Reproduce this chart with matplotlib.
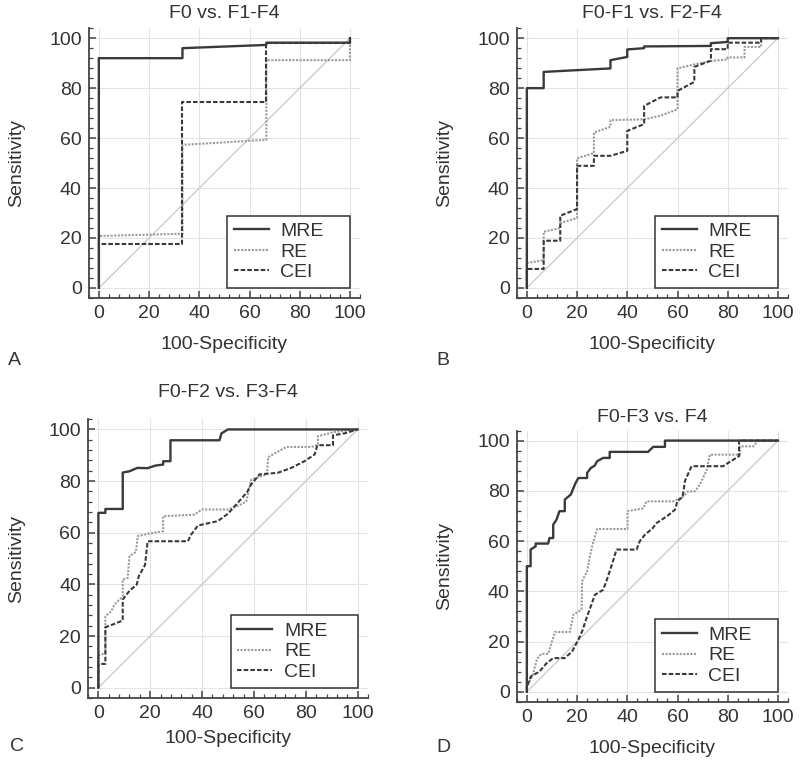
import matplotlib
matplotlib.use("Agg")
import matplotlib.pyplot as plt
from matplotlib.ticker import MultipleLocator

plt.rcParams['font.family'] = ['Liberation Sans', 'DejaVu Sans']
plt.rcParams['font.size'] = 14

TEXT = '#333333'

# panel A: F0 vs. F1-F4
a_mre_x = [0, 0, 33.3, 33.3, 66.7, 66.7, 100, 100]
a_mre_y = [0, 92, 92, 96, 97.3, 98.2, 98.2, 100]
a_re_x = [0, 0, 33.3, 33.3, 66.7, 66.7, 100, 100]
a_re_y = [0, 20.8, 21.7, 57.3, 59.3, 91.2, 91.2, 100]
a_cei_x = [0, 0, 33.3, 33.3, 66.7, 66.7, 100, 100]
a_cei_y = [0, 17.7, 17.7, 74.3, 74.3, 98.2, 98.2, 100]

# panel B: F0-F1 vs. F2-F4
b_mre_x = [0, 0, 6.7, 6.7, 33.3, 33.3, 40, 40, 46.7, 46.7, 73.3, 73.3, 80, 80, 100]
b_mre_y = [0, 80, 80, 86.5, 87.9, 91.2, 92.5, 95.5, 96, 96.7, 96.9, 98, 98.5, 100, 100]
b_re_x = [0, 0, 6.7, 6.7, 13.3, 13.3, 20, 20, 26.7, 26.7, 33.3, 33.3, 46.7, 53.3, 60, 60,
          66.7, 73.3, 80, 80, 86.7, 86.7, 93.3, 93.3, 100]
b_re_y = [0, 10, 11.1, 22.5, 24, 26, 28, 51.9, 54, 62.2, 64.5, 67.2, 67.5, 69, 71.5, 87.9,
          89.5, 90.9, 91.5, 92.3, 92.3, 96.5, 96.5, 100, 100]
b_cei_x = [0, 0, 6.7, 6.7, 13.3, 13.3, 20, 20, 26.7, 26.7, 33.3, 40, 40, 46.7, 46.7, 53.3,
           60, 60, 66.7, 66.7, 73.3, 73.3, 80, 80, 93.3, 93.3, 100]
b_cei_y = [0, 7.6, 7.6, 18.9, 18.9, 28.9, 31.6, 48.9, 48.9, 52.9, 52.9, 54.9, 62.9, 65.6, 72.9, 76.3,
           76.3, 78.9, 82.5, 88.5, 91, 95.6, 95.6, 98.2, 98.2, 100, 100]

# panel C: F0-F2 vs. F3-F4
c_mre_x = [0, 0, 2.7, 2.7, 9.4, 9.4, 12, 15, 19, 22, 25, 25, 27.8, 27.8, 46.7, 47.5, 50, 100]
c_mre_y = [0, 67.7, 67.7, 69.2, 69.2, 83.3, 83.8, 85.1, 85, 86, 86.4, 87.7, 87.7, 95.8, 95.8, 98.5, 100, 100]
c_re_x = [0, 0, 2.7, 2.7, 5, 6.2, 9.4, 9.4, 11.3, 12, 14.5, 15.2, 19.7, 25, 25, 37, 40, 50, 54,
          57, 59, 65, 65.5, 72.5, 82, 84.7, 84.7, 91, 100]
c_re_y = [0, 12.4, 13.4, 27.6, 29.6, 32.2, 35.4, 41.9, 42.5, 50.9, 52.6, 58.7, 59.7, 60.6, 66.4,
          67, 69, 69, 70.5, 72, 80.6, 82.6, 89.3, 93.2, 93.2, 94, 97.4, 99, 100]
c_cei_x = [0, 0, 2.7, 2.7, 6.2, 9.4, 9.4, 12, 14.8, 15.6, 18, 19, 34.5, 35.8, 38.4, 46.1, 49.9,
           53.8, 57.4, 58.9, 62.2, 69.2, 74.4, 79.5, 83.4, 84.5, 90.5, 90.5, 95, 100]
c_cei_y = [0, 9.2, 9.2, 23.4, 24.7, 26, 34.1, 37.5, 39.9, 43.2, 47.5, 56.7, 56.7, 59.3, 62.8, 64.5,
           67.3, 71.6, 75.8, 78.7, 82.6, 83.2, 85.1, 87.7, 90.3, 93.9, 93.9, 97.7, 98.5, 100]

# panel D: F0-F3 vs. F4
d_mre_x = [0, 0, 1.5, 1.5, 3.5, 3.5, 8.5, 9, 10.5, 10.5, 11.8, 13, 15.1, 15.1, 17.5, 19.3, 20.5,
           24, 24, 25.5, 27, 28, 30.4, 33, 33, 48.3, 50.3, 55, 55, 100]
d_mre_y = [0, 50, 50, 56.6, 57.9, 59, 59, 61.2, 61.2, 66.5, 68.5, 71.9, 71.9, 76.5, 78.5, 82.9, 85.1,
           85.1, 87.1, 89.1, 90, 91.8, 93.1, 93.1, 95.5, 95.5, 97.5, 97.5, 100, 100]
d_re_x = [0, 0, 2.5, 4, 5.8, 8.5, 9.8, 11.2, 17.1, 18.5, 21.8, 22, 24, 25.1, 26, 28, 40.1, 40.1,
          46.3, 47.7, 58.3, 62, 64.3, 67, 68.9, 71.5, 72.9, 84.9, 84.9, 90.2, 92, 100]
d_re_y = [0, 2, 7, 13, 15.1, 15.1, 19.4, 23.8, 23.8, 30.7, 32.7, 44, 48, 53.9, 58, 64.8, 64.8, 71.9,
          73, 75.8, 75.8, 77.5, 79.8, 79.8, 82.5, 88, 94.4, 94.4, 97.7, 97.7, 100, 100]
d_cei_x = [0, 0, 1.6, 5, 7.8, 10.5, 15.1, 18, 20.5, 22, 24, 26, 27.1, 30.4, 32, 34, 35.7, 43.7,
           45, 47, 50, 51.7, 56, 59, 60, 62, 63, 65.6, 78.2, 80, 84.5, 84.5, 100]
d_cei_y = [0, 2, 6.1, 8, 11.3, 13.4, 13.4, 16, 20.7, 24, 30, 35.5, 38.6, 40.6, 45, 51, 56.6, 56.6,
           60, 62.5, 65, 67.2, 70, 72.5, 76, 77.5, 84, 89.8, 89.8, 91, 93.8, 100, 100]

panels = [
  ("F0 vs. F1-F4", "A", [0.111, 0.609, 0.339, 0.354], 7, 10,
   (a_mre_x, a_mre_y), (a_re_x, a_re_y), (a_cei_x, a_cei_y), (0.010, 0.521)),
  ("F0-F1 vs. F2-F4", "B", [0.646, 0.609, 0.339, 0.354], 7, 10,
   (b_mre_x, b_mre_y), (b_re_x, b_re_y), (b_cei_x, b_cei_y), (0.545, 0.521)),
  ("F0-F2 vs. F3-F4", "C", [0.110, 0.084, 0.350, 0.366], 16, 6,
   (c_mre_x, c_mre_y), (c_re_x, c_re_y), (c_cei_x, c_cei_y), (0.0125, 0.015)),
  ("F0-F3 vs. F4", "D", [0.646, 0.079, 0.339, 0.356], 6.5, 10,
   (d_mre_x, d_mre_y), (d_re_x, d_re_y), (d_cei_x, d_cei_y), (0.545, 0.013)),
]

fig = plt.figure(figsize=(8, 7.62), dpi=100)

for title, letter, rect, tpad, xpad, mre, re, cei, lpos in panels:
  ax = fig.add_axes(rect)
  ax.plot([0, 100], [0, 100], color='#c8c8c8', lw=0.9, zorder=1)
  ax.plot(re[0], re[1], color='#9a9a9a', lw=1.5, linestyle=(0, (1, 0.7)), label='RE', zorder=3)
  ax.plot(cei[0], cei[1], color='#3a3a3a', lw=1.5, linestyle=(0, (2.2, 1)), label='CEI', zorder=4)
  ax.plot(mre[0], mre[1], color='#3a3a3a', lw=1.7, label='MRE', zorder=5)

  ax.set_xlim(-4, 104)
  ax.set_ylim(-4, 104)
  ax.xaxis.set_major_locator(MultipleLocator(20))
  ax.yaxis.set_major_locator(MultipleLocator(20))
  ax.xaxis.set_minor_locator(MultipleLocator(4))
  ax.yaxis.set_minor_locator(MultipleLocator(4))
  ax.grid(True, which='major', color='#e3e3e3', lw=0.8)
  ax.set_axisbelow(True)
  for s in ['top', 'right']:
    ax.spines[s].set_visible(False)
  for s in ['left', 'bottom']:
    ax.spines[s].set_color('#444444')
    ax.spines[s].set_linewidth(1.3)
  ax.tick_params(which='major', direction='in', length=5, width=1.1, color='#444444',
                 labelcolor=TEXT, pad=5, labelsize=14)
  ax.tick_params(which='minor', direction='in', length=3, width=0.9, color='#444444')

  ax.set_title(title, color=TEXT, fontsize=14, pad=tpad)
  ax.set_xlabel('100-Specificity', color=TEXT, fontsize=14, labelpad=xpad)
  ax.set_ylabel('Sensitivity', color=TEXT, fontsize=14, labelpad=17)

  handles, labels = ax.get_legend_handles_labels()
  order = [labels.index(n) for n in ['MRE', 'RE', 'CEI']]
  leg = ax.legend([handles[i] for i in order], [labels[i] for i in order],
                  loc='lower right', bbox_to_anchor=(51, 0, 49, 30),
                  bbox_transform=ax.transData, mode='expand', borderaxespad=0,
                  fancybox=False, framealpha=1, edgecolor='#333333',
                  handlelength=1.8, handletextpad=0.6, labelspacing=0.15,
                  borderpad=0.35, fontsize=14)
  leg.get_frame().set_linewidth(1.1)
  for t in leg.get_texts():
    t.set_color(TEXT)

  fig.text(lpos[0], lpos[1], letter, color=TEXT, fontsize=14)

fig.savefig('out.png', dpi=100)
